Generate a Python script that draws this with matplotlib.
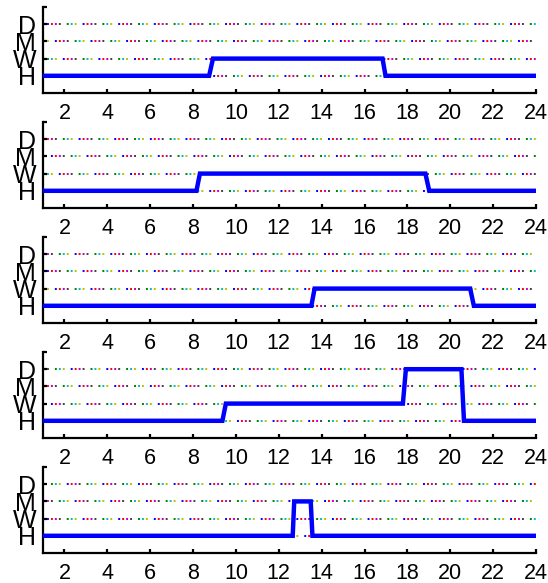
import matplotlib
matplotlib.use("Agg")
import matplotlib.pyplot as plt

plt.rcParams['font.family'] = ['Liberation Sans', 'DejaVu Sans']
plt.rcParams['lines.scale_dashes'] = False

# State levels
level_values = [1, 2, 3, 4]
level_labels = ['H', 'W', 'M', 'D']
hour_ticks = list(range(2, 25, 2))

# Each panel: breakpoints (hour, level)
p1_t = [1, 8.75, 8.93, 16.84, 16.98, 24]
p1_y = [1, 1, 2, 2, 1, 1]
p2_t = [1, 8.16, 8.32, 18.84, 19.02, 24]
p2_y = [1, 1, 2, 2, 1, 1]
p3_t = [1, 13.52, 13.67, 20.93, 21.1, 24]
p3_y = [1, 1, 2, 2, 1, 1]
p4_t = [1, 9.37, 9.53, 17.79, 17.93, 20.52, 20.64, 24]
p4_y = [1, 1, 2, 2, 4, 4, 1, 1]
p5_t = [1, 12.65, 12.72, 13.49, 13.57, 24]
p5_y = [1, 1, 3, 3, 1, 1]

panels = [(p1_t, p1_y), (p2_t, p2_y), (p3_t, p3_y), (p4_t, p4_y), (p5_t, p5_y)]

dot_colors = ['#0000ff', '#008000', '#ff0000', '#00bfbf', '#bf00bf', '#bfbf00', '#404040']

W, H = 548, 583
fig = plt.figure(figsize=(W / 100, H / 100), dpi=100)

left_px, right_px = 43, 536
ax_h_px = 86
for k, (t, y) in enumerate(panels):
    bottom_px = 93 + 115 * k
    ax = fig.add_axes([left_px / W, 1 - bottom_px / H, (right_px - left_px) / W, ax_h_px / H])
    # multicoloured dotted guide lines
    spacing = 2.85  # points
    n = len(dot_colors) + 2
    for lv in level_values:
        for i, c in enumerate(dot_colors):
            off = ((i * 4 + lv * 2 + k) % n) * spacing
            ax.plot([1, 24], [lv, lv], color=c, lw=1.4,
                    linestyle=(off, (1.4, n * spacing - 1.4)),
                    dash_capstyle='butt', zorder=1)
    ax.plot(t, y, color='#0000ff', lw=3.2, zorder=3, solid_joinstyle='miter')
    ax.set_xlim(1, 24)
    ax.set_ylim(0, 5)
    ax.set_xticks(hour_ticks)
    ax.set_xticklabels([str(h) for h in hour_ticks], fontsize=15.5)
    ax.set_yticks(level_values + [5])
    ax.set_yticklabels(level_labels + [''], fontsize=18)
    for s in ['top', 'right']:
        ax.spines[s].set_visible(False)
    for s in ['left', 'bottom']:
        ax.spines[s].set_linewidth(1.6)
    ax.tick_params(axis='x', direction='in', length=3, width=1.6, pad=7)
    ax.tick_params(axis='y', direction='in', length=3, width=1.6, pad=5)

fig.savefig('out.png', dpi=100)
